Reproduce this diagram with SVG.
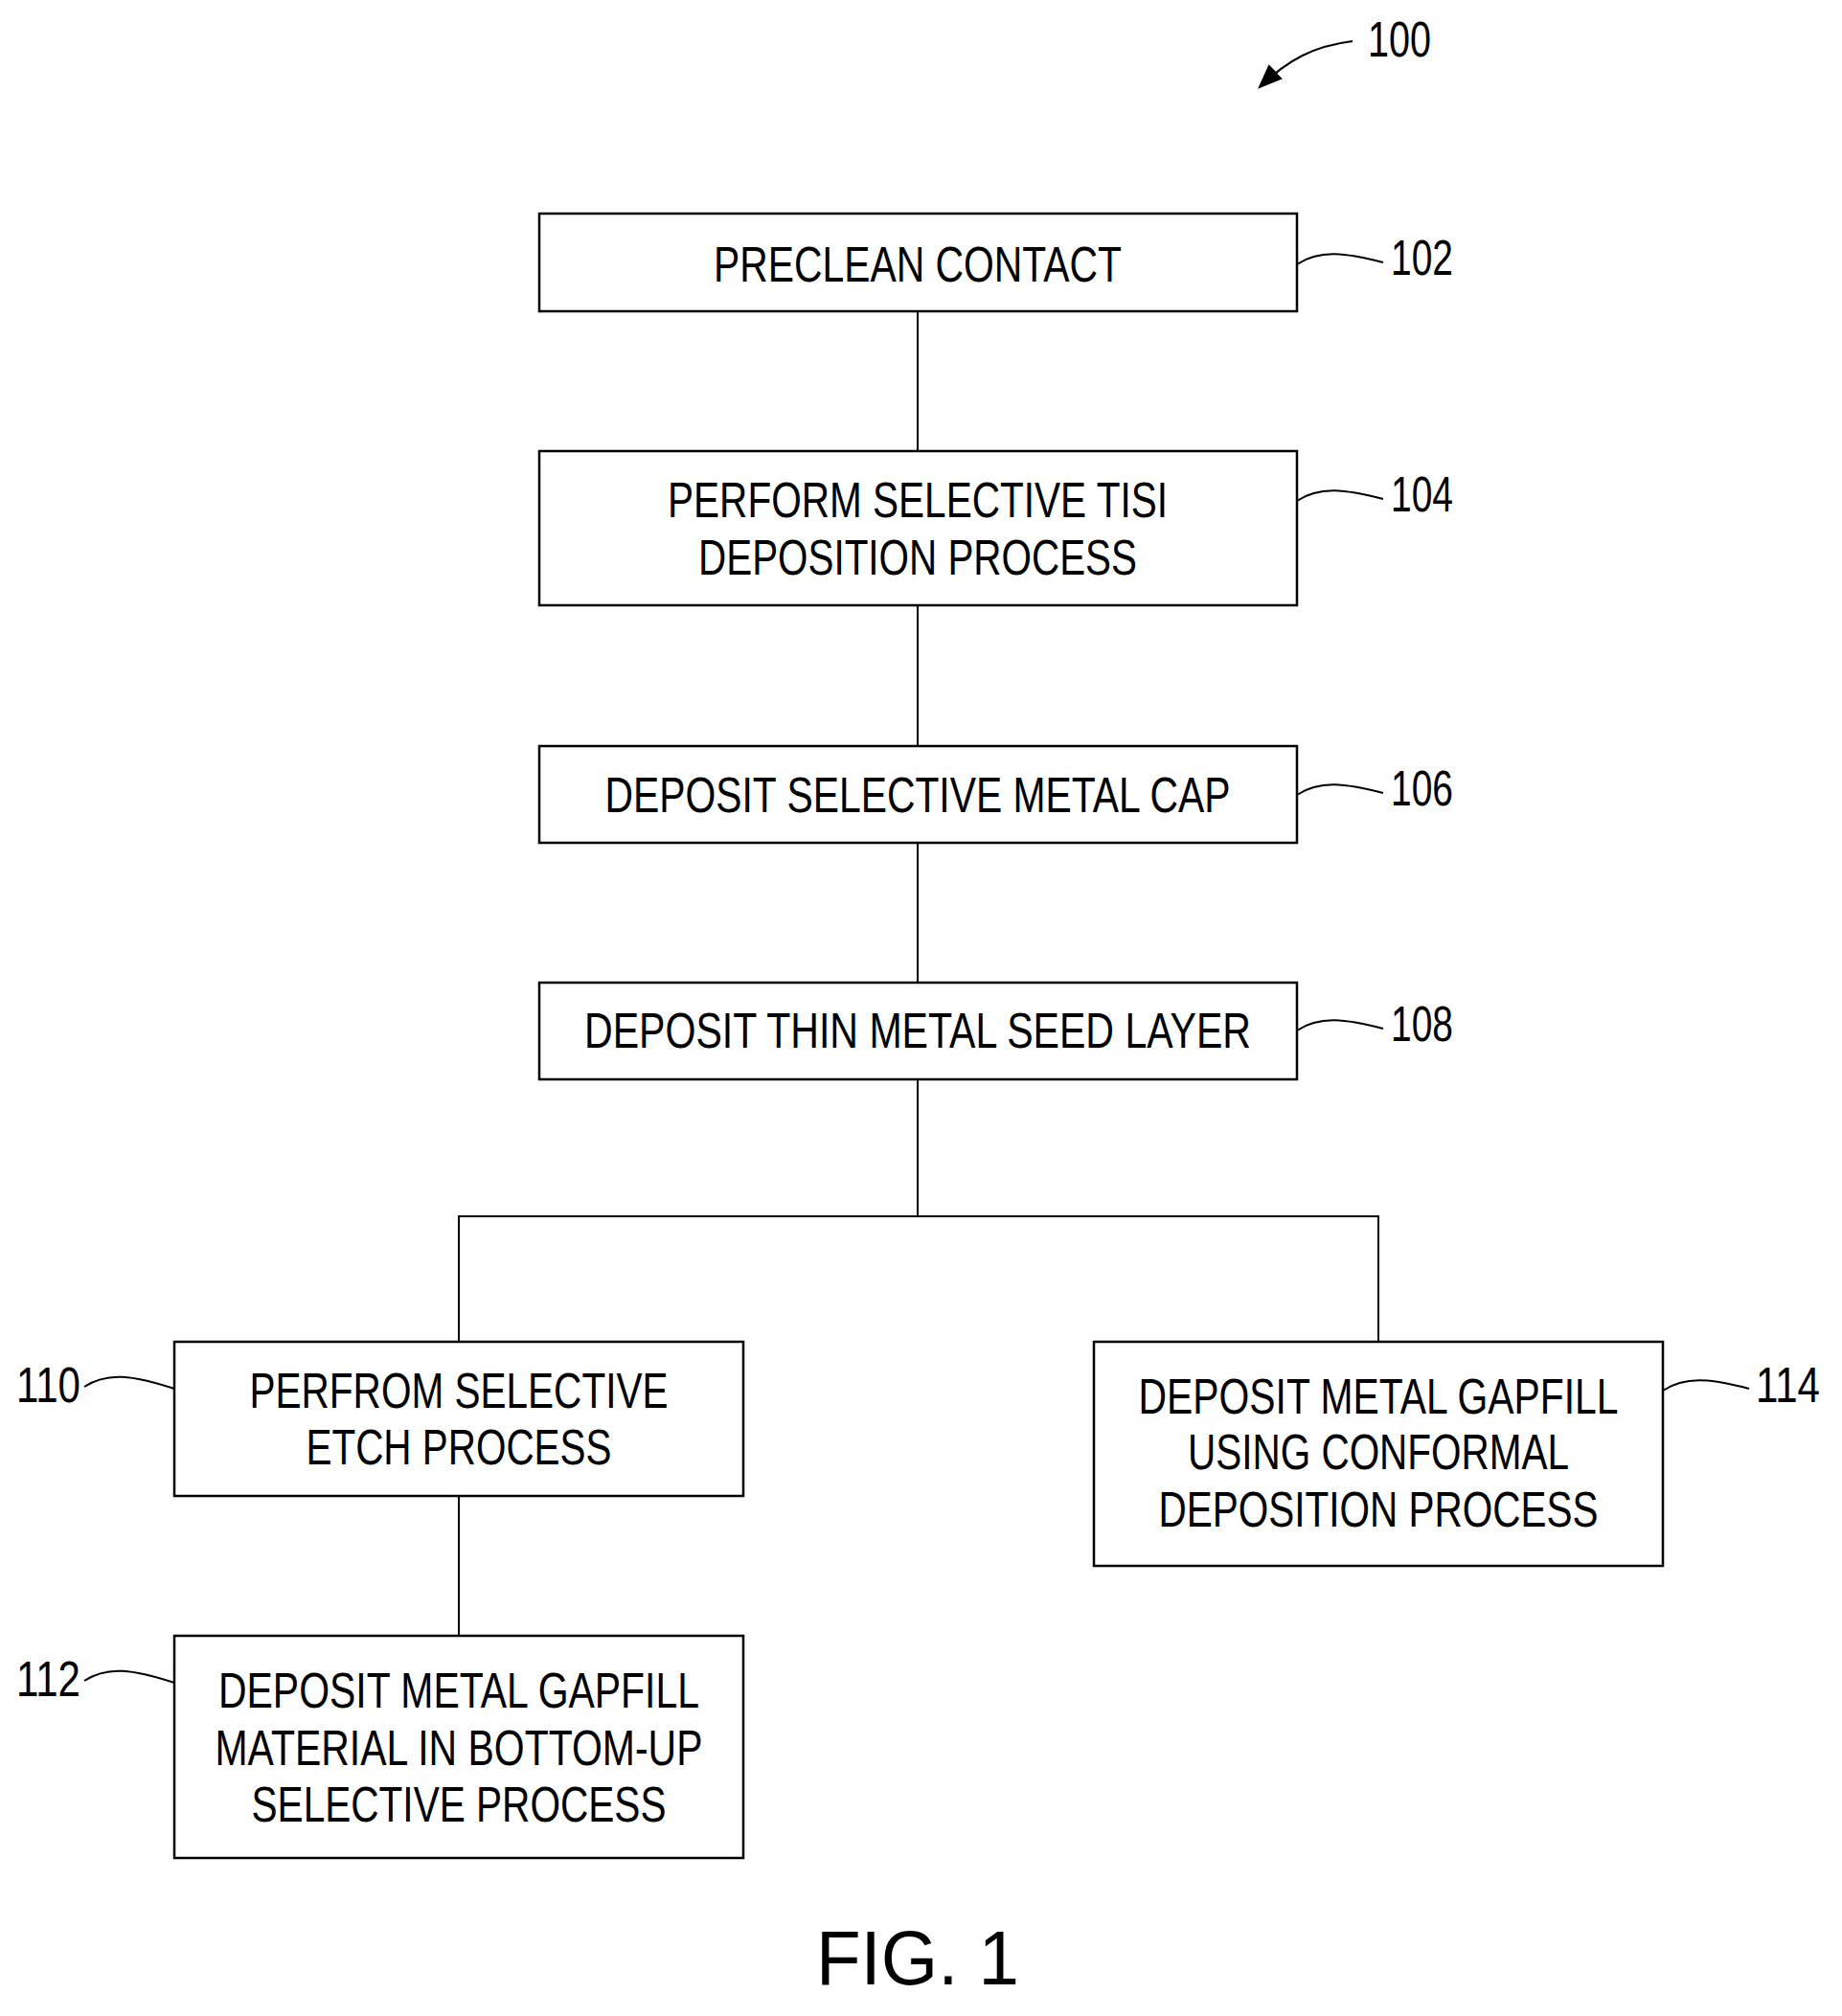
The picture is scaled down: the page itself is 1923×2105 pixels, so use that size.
<svg xmlns="http://www.w3.org/2000/svg" width="1923" height="2105" viewBox="0 0 1923 2105">
<style>
.b{fill:#fff;stroke:#000;stroke-width:2.5}
.c path,.c line,.l path{fill:none;stroke:#000;stroke-width:2}
text{font-family:"Liberation Sans",Arial,sans-serif;font-size:51px;fill:#000;text-anchor:middle}
.n{text-anchor:start}
</style>
<defs><marker id="ah" viewBox="0 0 10 10" refX="9" refY="5" markerWidth="26" markerHeight="26" markerUnits="userSpaceOnUse" orient="auto"><path d="M0,1 L10,5 L0,9 z" fill="#000"/></marker></defs>
<rect width="1923" height="2105" fill="#fff"/>
<g class="c">
<line x1="958" y1="325" x2="958" y2="471"/>
<line x1="958" y1="632" x2="958" y2="779"/>
<line x1="958" y1="880" x2="958" y2="1026"/>
<line x1="958" y1="1127" x2="958" y2="1270"/>
<path d="M479,1401 V1270 H1439 V1401"/>
<line x1="479" y1="1562" x2="479" y2="1708"/>
</g>
<g class="l">
<path d="M1412,43 C1372,48 1345,62 1315,91" marker-end="url(#ah)" stroke-width="3"/>
<path d="M1354,276 C1378,260 1405,264 1444,274"/>
<path d="M1354,523 C1378,507 1405,511 1444,521"/>
<path d="M1354,830 C1378,814 1405,818 1444,828"/>
<path d="M1354,1076 C1378,1060 1405,1064 1444,1074"/>
<path d="M1736,1452 C1760,1436 1787,1440 1826,1450"/>
<path d="M88,1448 C112,1432 139,1436 182,1450"/>
<path d="M88,1755 C112,1739 139,1743 182,1757"/>
<text class="n" x="1428" y="59" textLength="66" lengthAdjust="spacingAndGlyphs">100</text>
<text class="n" x="1452" y="287" textLength="65" lengthAdjust="spacingAndGlyphs">102</text>
<text class="n" x="1452" y="534" textLength="65" lengthAdjust="spacingAndGlyphs">104</text>
<text class="n" x="1452" y="841" textLength="65" lengthAdjust="spacingAndGlyphs">106</text>
<text class="n" x="1452" y="1087" textLength="65" lengthAdjust="spacingAndGlyphs">108</text>
<text class="n" x="17" y="1464" textLength="67" lengthAdjust="spacingAndGlyphs">110</text>
<text class="n" x="17" y="1771" textLength="67" lengthAdjust="spacingAndGlyphs">112</text>
<text class="n" x="1833" y="1464" textLength="67" lengthAdjust="spacingAndGlyphs">114</text>
</g>
<g id="n102"><rect class="b" x="563" y="223" width="791" height="102"/><text x="958" y="294" textLength="426" lengthAdjust="spacingAndGlyphs">PRECLEAN CONTACT</text></g>
<g id="n104"><rect class="b" x="563" y="471" width="791" height="161"/><text x="958" y="540" textLength="522" lengthAdjust="spacingAndGlyphs">PERFORM SELECTIVE TISI</text><text x="958" y="600" textLength="458" lengthAdjust="spacingAndGlyphs">DEPOSITION PROCESS</text></g>
<g id="n106"><rect class="b" x="563" y="779" width="791" height="101"/><text x="958" y="848" textLength="653" lengthAdjust="spacingAndGlyphs">DEPOSIT SELECTIVE METAL CAP</text></g>
<g id="n108"><rect class="b" x="563" y="1026" width="791" height="101"/><text x="958" y="1094" textLength="696" lengthAdjust="spacingAndGlyphs">DEPOSIT THIN METAL SEED LAYER</text></g>
<g id="n110"><rect class="b" x="182" y="1401" width="594" height="161"/><text x="479" y="1470" textLength="437" lengthAdjust="spacingAndGlyphs">PERFROM SELECTIVE</text><text x="479" y="1529" textLength="319" lengthAdjust="spacingAndGlyphs">ETCH PROCESS</text></g>
<g id="n112"><rect class="b" x="182" y="1708" width="594" height="232"/><text x="479" y="1783" textLength="502" lengthAdjust="spacingAndGlyphs">DEPOSIT METAL GAPFILL</text><text x="479" y="1843" textLength="509" lengthAdjust="spacingAndGlyphs">MATERIAL IN BOTTOM-UP</text><text x="479" y="1902" textLength="433" lengthAdjust="spacingAndGlyphs">SELECTIVE PROCESS</text></g>
<g id="n114"><rect class="b" x="1142" y="1401" width="594" height="234"/><text x="1439" y="1476" textLength="501" lengthAdjust="spacingAndGlyphs">DEPOSIT METAL GAPFILL</text><text x="1439" y="1534" textLength="398" lengthAdjust="spacingAndGlyphs">USING CONFORMAL</text><text x="1439" y="1594" textLength="459" lengthAdjust="spacingAndGlyphs">DEPOSITION PROCESS</text></g>
<text x="958" y="2072" style="font-size:80px" textLength="212" lengthAdjust="spacingAndGlyphs">FIG. 1</text>
</svg>
